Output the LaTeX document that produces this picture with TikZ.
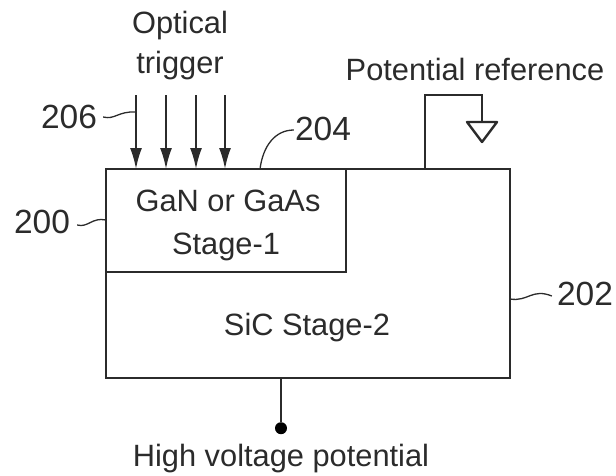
\documentclass[tikz,border=0pt]{standalone}
\usepackage{fontspec}
\setmainfont{Liberation Sans}
\usepackage{xcolor}
\usepackage{tikz}
\usetikzlibrary{arrows.meta, positioning}
\definecolor{inkgray}{HTML}{2B2B2B}

\begin{document}
\begin{tikzpicture}[
	x=1pt, y=-1pt,
	color=inkgray,
	text=inkgray,
	font=\fontsize{30.8}{35}\selectfont,
	stage/.style={
		draw,
		rectangle,
		line width=2.4pt,
		outer sep=0pt,
		inner sep=0pt
	},
	label/.style={inner sep=0pt, anchor=base},
	refnum/.style={inner sep=0pt, anchor=base, font=\fontsize{33.5}{38}\selectfont},
	wire/.style={line width=2.4pt},
	leader/.style={line width=1.3pt},
	trigger/.style={-{Latex[length=21pt, width=12pt]}, line width=2pt}
	]
	
	\useasboundingbox (0,0) rectangle (616,475);
	
	% Etapas
	\node[stage, minimum width=404pt, minimum height=209pt, anchor=north west] (sic) at (106,169) {};
	\node[stage, minimum width=240pt, minimum height=103pt, anchor=north west] (gan) at (sic.north west) {};
	
	% Textos
	\node[label] (opt) at (180,33) {Optical};
	\node[label] (trg) at (180,73) {trigger};
	\node[label] (ref) at (475,80) {Potential reference};
	\node[label] (ganl) at (228,211) {GaN or GaAs};
	\node[label] (stl) at (226,254) {Stage-1};
	\node[label] (sicl) at (307,335) {SiC Stage-2};
	\node[label] (hv) at (281,466) {High voltage potential};
	
	% Referencias
	\node[refnum] (n206) at (69,128) {206};
	\node[refnum] (n204) at (323,140) {204};
	\node[refnum] (n200) at (42,233) {200};
	\node[refnum] (n202) at (585,305) {202};
	
	% Flechas de disparo
	\foreach \name/\xpos in {a/136, b/166, c/196, d/225} {
		\coordinate (top\name) at (\xpos,95);
		\draw[trigger] (top\name) -- (top\name |- gan.north);
	}
	
	% Referencia de potencial
	\coordinate (gndtop) at (425,95);
	\coordinate (gndtip) at (482,122);
	\draw[wire] (gndtop |- sic.north) -- (gndtop) -| (gndtip);
	\draw[wire, line join=round] (gndtip) -- ++(-15,0) -- ++(15,20) -- ++(15,-20) -- cycle;
	
	% Terminal de alto voltaje
	\node[circle, fill=black, inner sep=0pt, minimum size=12pt, below=44pt of sic.south -| hv.north] (dot) {};
	\draw[wire] (sic.south -| dot) -- (dot);
	
	% Lineas de referencia
	\draw[leader] ([xshift=6pt]n206.east |- 0,117) .. controls (115,120) and (118,111) .. (topa |- 0,112);
	\draw[leader] (260,169) .. controls (263,146) and (275,130) .. ([xshift=-1pt]n204.west |- 0,130);
	\draw[leader] ([xshift=7pt]n200.east |- 0,225) .. controls (88,228) and (92,217) .. (sic.west |- 0,220);
	\draw[leader] (sic.east |- 0,299) .. controls (528,302) and (532,288) .. ([xshift=-5pt]n202.west |- 0,296);
	
\end{tikzpicture}
\end{document}
